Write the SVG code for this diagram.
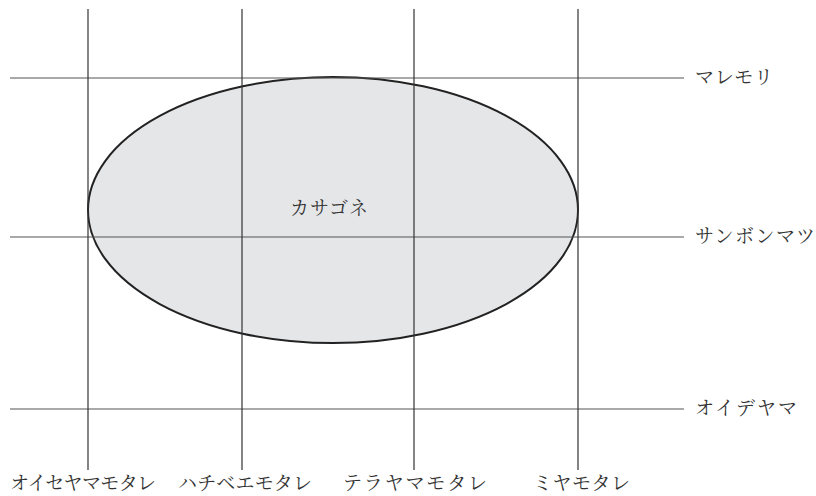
<svg xmlns="http://www.w3.org/2000/svg" width="816" height="496" viewBox="0 0 816 496">
<style>
  .lbl { font-family: "Noto Serif CJK JP", "Noto Sans CJK JP", serif; font-size: 19px; fill: #333; }
  .hl { stroke: #555; stroke-width: 1.2; fill: none; }
  .vl { stroke: #333; stroke-width: 1.2; fill: none; }
  .area { fill: #e5e6e8; stroke: #222; stroke-width: 2; }
</style>
<rect width="816" height="496" fill="#ffffff"/>
<g id="kasagone">
  <ellipse class="area" cx="333" cy="210" rx="245" ry="133"/>
  <text class="lbl" x="329" y="215" text-anchor="middle" textLength="78" lengthAdjust="spacing">カサゴネ</text>
</g>
<g id="connectors">
  <line class="hl" x1="10" y1="78" x2="684" y2="78"/>
  <line class="hl" x1="10" y1="237" x2="684" y2="237"/>
  <line class="hl" x1="10" y1="409" x2="684" y2="409"/>
  <line class="vl" x1="88" y1="9" x2="88" y2="470"/>
  <line class="vl" x1="242" y1="9" x2="242" y2="470"/>
  <line class="vl" x1="414" y1="9" x2="414" y2="470"/>
  <line class="vl" x1="578" y1="9" x2="578" y2="470"/>
</g>
<g id="maremori"><text class="lbl" x="695" y="84" textLength="78" lengthAdjust="spacing">マレモリ</text></g>
<g id="sanbonmatsu"><text class="lbl" x="695" y="243" textLength="120" lengthAdjust="spacing">サンボンマツ</text></g>
<g id="oideyama"><text class="lbl" x="695" y="415" textLength="102" lengthAdjust="spacing">オイデヤマ</text></g>
<g id="oiseyamamotare"><text class="lbl" x="10" y="490" textLength="146" lengthAdjust="spacing">オイセヤマモタレ</text></g>
<g id="hachibeemotare"><text class="lbl" x="178" y="490" textLength="134" lengthAdjust="spacing">ハチベエモタレ</text></g>
<g id="terayamamotare"><text class="lbl" x="343" y="490" textLength="144" lengthAdjust="spacing">テラヤマモタレ</text></g>
<g id="miyamotare"><text class="lbl" x="533" y="490" textLength="97" lengthAdjust="spacing">ミヤモタレ</text></g>
</svg>
